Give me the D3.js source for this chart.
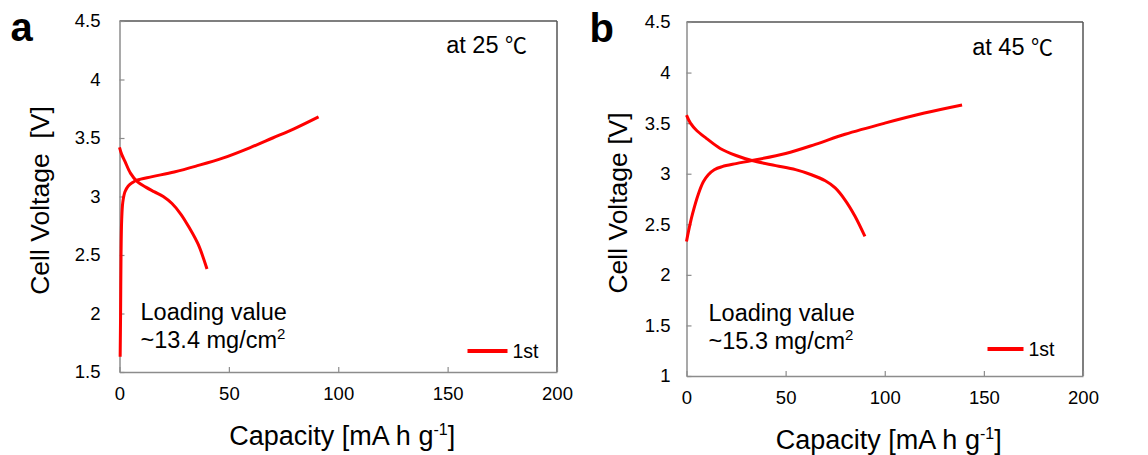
<!DOCTYPE html>
<html>
<head>
<meta charset="utf-8">
<script src="https://cdn.jsdelivr.net/npm/d3@7.9.0/dist/d3.min.js"></script>
<style>
  body { margin: 0; background: #fff; }
  svg { display: block; font-family: "Liberation Sans", Arial, sans-serif; }
</style>
</head>
<body>
<svg id="chart" width="1148" height="455"></svg>
<script>
// ----- data -----
const xTicks = [0, 50, 100, 150, 200];
const yTicksA = [1.5, 2, 2.5, 3, 3.5, 4, 4.5];
const yTicksB = [1, 1.5, 2, 2.5, 3, 3.5, 4, 4.5];

// panel a, 25 C: [capacity, voltage]
const chargeA = [[0.3,1.63],[0.5,2.0],[0.7,2.5],[1.0,2.8],[1.5,2.95],[2.5,3.04],[4,3.09],[6,3.12],[8,3.14],[15,3.17],[25,3.21],[35,3.26],[47.5,3.33],[60,3.42],[70,3.5],[80,3.58],[91,3.68]];
const dischargeA = [[0,3.42],[1,3.36],[2.5,3.3],[5,3.2],[8,3.13],[12,3.08],[16,3.04],[20,3.0],[24,2.94],[28,2.85],[32,2.73],[36,2.59],[40,2.38]];

// panel b, 45 C
const chargeB = [[0,2.33],[1,2.43],[3,2.6],[6,2.8],[8.5,2.92],[11,2.99],[14,3.04],[18,3.07],[25,3.1],[33,3.13],[50,3.2],[65,3.29],[80,3.39],[100,3.5],[120,3.6],[139,3.68]];
const dischargeB = [[0,3.58],[2,3.5],[5,3.43],[10,3.35],[17,3.25],[25,3.18],[33,3.13],[45,3.08],[55,3.04],[63,2.99],[70,2.93],[75,2.86],[80,2.74],[85,2.58],[90,2.38]];

const svg = d3.select("#chart");

function drawPanel(opt) {
  const g = svg.append("g").attr("transform", `translate(${opt.left},${opt.top})`);
  const w = opt.width, h = opt.height;

  const x = d3.scaleLinear().domain([0, 200]).range([0, w]);
  const y = d3.scaleLinear().domain(opt.yDomain).range([h, 0]);

  // frame: top/right darker
  g.append("line").attr("x1", 0).attr("x2", w).attr("y1", 0).attr("y2", 0)
    .attr("stroke", "#555").attr("stroke-width", 1.5);
  g.append("line").attr("x1", w).attr("x2", w).attr("y1", 0).attr("y2", h)
    .attr("stroke", "#555").attr("stroke-width", 1.5);

  const xAxis = g.append("g").attr("transform", `translate(0,${h})`)
    .call(d3.axisBottom(x).tickValues(xTicks).tickSizeInner(-5).tickSizeOuter(0).tickPadding(15));
  const yAxis = g.append("g")
    .call(d3.axisLeft(y).tickValues(opt.yTicks).tickFormat(d => String(d))
      .tickSizeInner(-5).tickSizeOuter(0).tickPadding(opt.yPad));

  [xAxis, yAxis].forEach(a => {
    a.select(".domain").attr("stroke", "#8c8c8c").attr("stroke-width", 1.5);
    a.selectAll(".tick line").attr("stroke", "#8c8c8c").attr("stroke-width", 1.2);
    a.selectAll(".tick text").attr("font-size", "18.5px").attr("fill", "#000")
      .attr("font-family", "Liberation Sans, Arial, sans-serif");
  });

  const line = d3.line()
    .x(d => x(d[0]))
    .y(d => y(d[1]))
    .curve(d3.curveCatmullRom.alpha(0.5));

  [opt.charge, opt.discharge].forEach(s => {
    g.append("path").datum(s)
      .attr("fill", "none").attr("stroke", "#ff0000").attr("stroke-width", 3)
      .attr("stroke-linejoin", "round")
      .attr("d", line);
  });

  // temperature note
  const tt = g.append("text")
    .attr("x", w - 30).attr("y", opt.tempY)
    .attr("text-anchor", "end")
    .attr("font-size", "23.5px");
  tt.append("tspan").text(opt.temp + " ");
  tt.append("tspan").attr("font-family", "Noto Sans CJK JP, DejaVu Sans, sans-serif")
    .attr("font-size", "22px").text("\u2103");

  // loading note
  const note = g.append("text").attr("font-size", "23.5px");
  note.append("tspan").attr("x", opt.noteX).attr("y", 299).text("Loading value");
  note.append("tspan").attr("x", opt.noteX).attr("y", 327).text(opt.loading);
  note.append("tspan").attr("dy", -9).attr("font-size", "15px").text("2");

  // legend
  g.append("line")
    .attr("x1", opt.legX).attr("x2", opt.legX + opt.legLen)
    .attr("y1", opt.legY).attr("y2", opt.legY)
    .attr("stroke", "#ff0000").attr("stroke-width", 4);
  g.append("text")
    .attr("x", opt.legX + opt.legLen + 5).attr("y", opt.legY + 7)
    .attr("font-size", "19.5px")
    .text("1st");

  // axis titles
  const xt = g.append("text")
    .attr("x", w / 2 + 4).attr("y", 73)
    .attr("transform", `translate(0,${h})`)
    .attr("text-anchor", "middle")
    .attr("font-size", "27px");
  xt.append("tspan").text("Capacity [mA h g");
  xt.append("tspan").attr("dy", -10).attr("font-size", "16px").text("-1");
  xt.append("tspan").attr("dy", 10).text("]");

  g.append("text")
    .attr("transform", `translate(${opt.yTitleX},${h / 2 + 4}) rotate(-90)`)
    .attr("text-anchor", "middle")
    .attr("font-size", "26.5px")
    .style("white-space", "pre")
    .text(opt.yTitle);

  // panel letter
  g.append("text")
    .attr("x", opt.letterX).attr("y", 20)
    .attr("font-size", "40px")
    .attr("font-weight", "bold")
    .text(opt.letter);
}

drawPanel({
  left: 119.5, top: 21, width: 437.5, height: 351,
  yDomain: [1.5, 4.5], yTicks: yTicksA, yPad: 19,
  charge: chargeA, discharge: dischargeA,
  temp: "at 25", tempY: 32,
  noteX: 21, loading: "~13.4 mg/cm",
  legX: 348, legY: 330, legLen: 40,
  yTitleX: -71, yTitle: "Cell Voltage  [V]",
  letter: "a", letterX: -109
});

drawPanel({
  left: 686.5, top: 22, width: 396.5, height: 354,
  yDomain: [1, 4.5], yTicks: yTicksB, yPad: 16,
  charge: chargeB, discharge: dischargeB,
  temp: "at 45", tempY: 33,
  noteX: 22, loading: "~15.3 mg/cm",
  legX: 301, legY: 327, legLen: 36,
  yTitleX: -60, yTitle: "Cell Voltage [V]",
  letter: "b", letterX: -97
});
</script>
</body>
</html>
